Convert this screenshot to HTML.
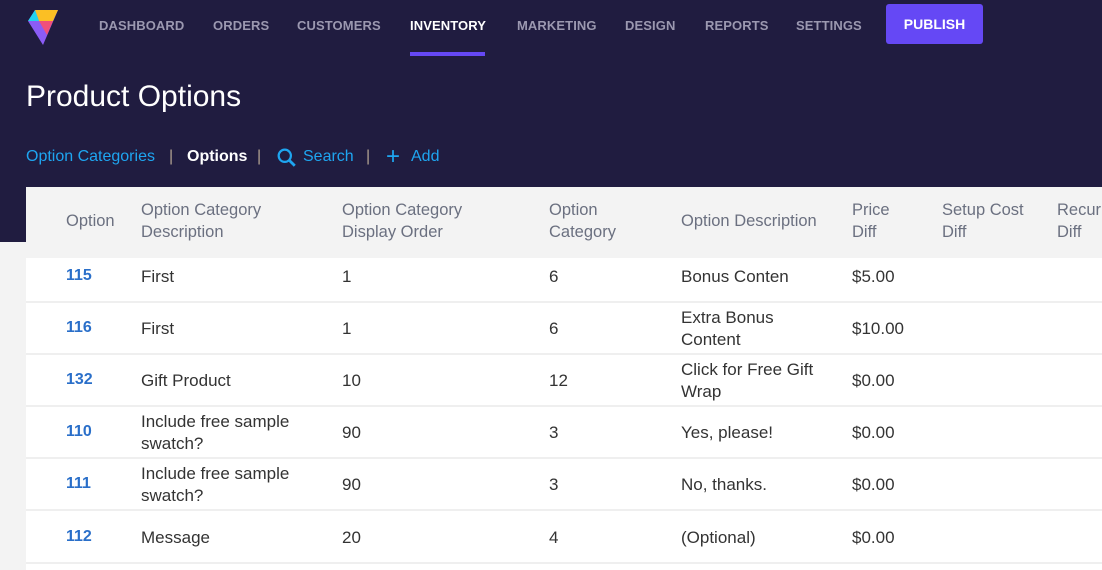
<!DOCTYPE html>
<html><head><style>
body{margin:0;width:1102px;height:570px;overflow:hidden;background:#f3f3f3;font-family:"Liberation Sans",sans-serif;position:relative}
.top{position:absolute;left:0;top:0;width:1102px;height:242px;background:#201c40}
.nav{position:absolute;top:18px;font-size:13px;font-weight:bold;color:#9b98b0;letter-spacing:0.1px}
.a{position:absolute}
.s{position:absolute;top:148px;font-size:16px;color:#1ea5f0}
.sep{position:absolute;top:148px;font-size:16px;color:#b0a090}
.card{position:absolute;left:26px;top:187px;width:1076px;height:383px;background:#fff}
.hdr{position:absolute;left:26px;top:187px;width:1076px;height:71px;background:#f3f3f3}
.h{position:absolute;color:#6b7080;font-size:16.5px;line-height:22px}
.c{position:absolute;color:#333;font-size:17px;line-height:22px}
.id{position:absolute;color:#2a6fc9;font-size:16px;font-weight:bold}
.ln{position:absolute;left:26px;width:1076px;height:2px;background:#efefef}
</style></head><body>
<div class="top"></div>
<svg class="a" style="left:25px;top:9px" width="36" height="38" viewBox="0 0 36 38">
<polygon points="3,12 10,1 33,1 18,36" fill="#8b5cf6"/>
<polygon points="10,1 33,1 28,12 14,12" fill="#fbbf24"/>
<polygon points="3,12 10,1 14,12" fill="#22d3ee"/>
<polygon points="14,12 28,12 22,26" fill="#f0507a"/>
</svg>
<div class="nav" style="left:99px">DASHBOARD</div>
<div class="nav" style="left:213px">ORDERS</div>
<div class="nav" style="left:297px">CUSTOMERS</div>
<div class="nav" style="left:410px;color:#fff">INVENTORY</div>
<div class="a" style="left:410px;top:52px;width:75px;height:4px;background:#6548f5"></div>
<div class="nav" style="left:517px">MARKETING</div>
<div class="nav" style="left:625px">DESIGN</div>
<div class="nav" style="left:705px">REPORTS</div>
<div class="nav" style="left:796px">SETTINGS</div>
<div class="a" style="left:886px;top:4px;width:97px;height:40px;background:#6548f5;border-radius:3px;color:#fff;font-weight:bold;font-size:14px;text-align:center;line-height:40px">PUBLISH</div>
<div class="a" style="left:26px;top:80px;color:#fff;font-size:30px">Product Options</div>
<div class="s" style="left:26px">Option Categories</div>
<div class="sep" style="left:169px">|</div>
<div class="s" style="left:187px;color:#fff;font-weight:bold">Options</div>
<div class="sep" style="left:257px">|</div>
<svg class="a" style="left:277px;top:148px" width="20" height="20" viewBox="0 0 18 18"><circle cx="7" cy="7" r="5.5" stroke="#1ea5f0" stroke-width="2" fill="none"/><line x1="11" y1="11" x2="16" y2="16" stroke="#1ea5f0" stroke-width="2.5"/></svg>
<div class="s" style="left:303px">Search</div>
<div class="sep" style="left:366px">|</div>
<div class="s" style="left:386px;top:143px;font-size:24px">+</div>
<div class="s" style="left:411px">Add</div>
<div class="card"></div><div class="hdr"></div>
<div class="h" style="left:66px;top:210px">Option</div>
<div class="h" style="left:141px;top:199px">Option Category<br>Description</div>
<div class="h" style="left:342px;top:199px">Option Category<br>Display Order</div>
<div class="h" style="left:549px;top:199px">Option<br>Category</div>
<div class="h" style="left:681px;top:210px">Option Description</div>
<div class="h" style="left:852px;top:199px">Price<br>Diff</div>
<div class="h" style="left:942px;top:199px">Setup Cost<br>Diff</div>
<div class="h" style="left:1057px;top:199px;white-space:nowrap">Recurring<br>Diff</div>
<div class="ln" style="top:301px"></div><div class="ln" style="top:353px"></div><div class="ln" style="top:405px"></div><div class="ln" style="top:457px"></div><div class="ln" style="top:509px"></div><div class="ln" style="top:562px"></div>

<div class="id" style="left:66px;top:267px">115</div><div class="c" style="left:141px;top:266px">First</div><div class="c" style="left:342px;top:266px">1</div><div class="c" style="left:549px;top:266px">6</div><div class="c" style="left:681px;top:266px">Bonus Conten</div><div class="c" style="left:852px;top:266px">$5.00</div>
<div class="id" style="left:66px;top:319px">116</div><div class="c" style="left:141px;top:318px">First</div><div class="c" style="left:342px;top:318px">1</div><div class="c" style="left:549px;top:318px">6</div><div class="c" style="left:681px;top:307px">Extra Bonus<br>Content</div><div class="c" style="left:852px;top:318px">$10.00</div>
<div class="id" style="left:66px;top:371px">132</div><div class="c" style="left:141px;top:370px">Gift Product</div><div class="c" style="left:342px;top:370px">10</div><div class="c" style="left:549px;top:370px">12</div><div class="c" style="left:681px;top:359px">Click for Free Gift<br>Wrap</div><div class="c" style="left:852px;top:370px">$0.00</div>
<div class="id" style="left:66px;top:423px">110</div><div class="c" style="left:141px;top:411px">Include free sample<br>swatch?</div><div class="c" style="left:342px;top:422px">90</div><div class="c" style="left:549px;top:422px">3</div><div class="c" style="left:681px;top:422px">Yes, please!</div><div class="c" style="left:852px;top:422px">$0.00</div>
<div class="id" style="left:66px;top:475px">111</div><div class="c" style="left:141px;top:463px">Include free sample<br>swatch?</div><div class="c" style="left:342px;top:474px">90</div><div class="c" style="left:549px;top:474px">3</div><div class="c" style="left:681px;top:474px">No, thanks.</div><div class="c" style="left:852px;top:474px">$0.00</div>
<div class="id" style="left:66px;top:528px">112</div><div class="c" style="left:141px;top:527px">Message</div><div class="c" style="left:342px;top:527px">20</div><div class="c" style="left:549px;top:527px">4</div><div class="c" style="left:681px;top:527px">(Optional)</div><div class="c" style="left:852px;top:527px">$0.00</div>
</body></html>
